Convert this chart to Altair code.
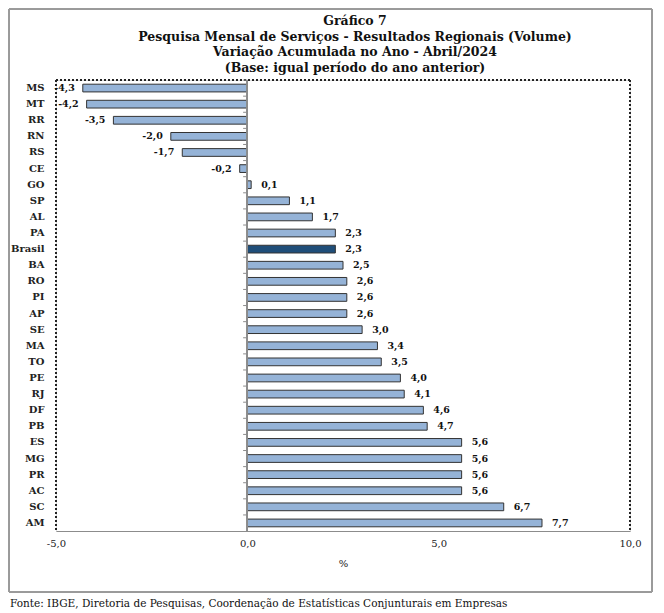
import altair as alt
import pandas as pd

UFS = ["MS", "MT", "RR", "RN", "RS", "CE", "GO", "SP", "AL", "PA", "Brasil", "BA", "RO", "PI",
       "AP", "SE", "MA", "TO", "PE", "RJ", "DF", "PB", "ES", "MG", "PR", "AC", "SC", "AM"]
VALUES = [-4.3, -4.2, -3.5, -2.0, -1.7, -0.2, 0.1, 1.1, 1.7, 2.3, 2.3, 2.5, 2.6, 2.6,
          2.6, 3.0, 3.4, 3.5, 4.0, 4.1, 4.6, 4.7, 5.6, 5.6, 5.6, 5.6, 6.7, 7.7]
X_TICKS = [-5, 0, 5, 10]
TITLE = ["Gráfico 7",
         "Pesquisa  Mensal de Serviços - Resultados Regionais (Volume)",
         "Variação Acumulada no Ano - Abril/2024",
         "(Base: igual período do ano anterior)"]
SOURCE = ["Fonte: IBGE, Diretoria de Pesquisas, Coordenação de Estatísticas Conjunturais em Empresas"]

W, H = 574, 451
SERIF = "DejaVu Serif"
FMT = "replace(replace(format({}, '.1f'), '.', ','), '\u2212', '-')"

df = pd.DataFrame({"uf": UFS, "v": VALUES})

xscale = alt.Scale(domain=[-5, 10], nice=False, zero=False)
yscale = alt.Scale(domain=UFS, paddingInner=0.52, paddingOuter=0.26)

x_enc = alt.X("v:Q", scale=xscale, title="%",
              axis=alt.Axis(values=X_TICKS, grid=False, ticks=False, domainColor="#8c8c8c",
                            labelFlush=False, labelBound=False,
                            labelExpr=FMT.format("datum.value"),
                            labelFont=SERIF, labelFontSize=10, labelColor="#222", labelPadding=7,
                            titleFont=SERIF, titleFontSize=10, titleFontWeight="normal",
                            titleColor="#222", titlePadding=10))
y_enc = alt.Y("uf:N", scale=yscale, sort=UFS, title=None,
              axis=alt.Axis(ticks=False, domain=False, labelFont=SERIF, labelFontSize=10,
                            labelFontWeight="bold", labelColor="#222", labelPadding=12))

base = alt.Chart(df)

bars = base.mark_bar(stroke="#333333", strokeWidth=1).encode(
    x=x_enc,
    x2=alt.datum(0),
    y=y_enc,
    fill=alt.condition(alt.datum.uf == "Brasil", alt.value("#1f4e79"), alt.value("#95b3d7")),
)

lab_base = base.transform_calculate(lab=FMT.format("datum.v"))
lab_enc = dict(
    x=alt.X("v:Q", scale=xscale),
    y=alt.Y("uf:N", scale=yscale, sort=UFS),
    text="lab:N",
)
labels_pos = lab_base.transform_filter(alt.datum.v >= 0).mark_text(
    font=SERIF, fontSize=9.5, fontWeight="bold", color="#111", baseline="middle",
    align="left", dx=10).encode(**lab_enc)
labels_neg = lab_base.transform_filter(alt.datum.v < 0).mark_text(
    font=SERIF, fontSize=9.5, fontWeight="bold", color="#111", baseline="middle",
    align="right", dx=-8).encode(**lab_enc)

zero_line = base.mark_rule(color="#8c8c8c", strokeWidth=1).encode(x=alt.datum(0))

zero_ticks = base.mark_rule(color="#8c8c8c", strokeWidth=1, yOffset=-8).encode(
    x=alt.datum(0),
    x2=alt.datum(-0.11),
    y=alt.Y("uf:N", scale=yscale, sort=UFS),
)

dash_top = base.mark_rule(color="#222", strokeDash=[2, 2], strokeWidth=1).encode(
    x=alt.value(0), x2=alt.value(W), y=alt.value(0))
dash_left = base.mark_rule(color="#222", strokeDash=[2, 2], strokeWidth=1).encode(
    x=alt.value(0), y=alt.value(0), y2=alt.value(H))
dash_right = base.mark_rule(color="#222", strokeDash=[2, 2], strokeWidth=1).encode(
    x=alt.value(W), y=alt.value(0), y2=alt.value(H))

frame = base.mark_rect(fill="transparent", stroke="#9a9a9a", strokeWidth=1).encode(
    x=alt.value(-47), x2=alt.value(W + 22), y=alt.value(-71), y2=alt.value(H + 61))

title = alt.Chart(pd.DataFrame({"t": ["\n".join(TITLE)]})).mark_text(
    font=SERIF, fontSize=12.5, fontWeight="bold", color="#111", align="center",
    baseline="top", lineBreak="\n", lineHeight=15.5
).encode(x=alt.value(W / 2 + 12), y=alt.value(-65), text="t:N")

source = alt.Chart(pd.DataFrame({"t": SOURCE})).mark_text(
    font=SERIF, fontSize=10.5, align="left", baseline="middle", color="#111"
).encode(x=alt.value(-46), y=alt.value(H + 73), text="t:N")

chart = alt.layer(
    frame, title, dash_top, dash_left, dash_right, zero_ticks, bars, zero_line,
    labels_pos, labels_neg, source
).properties(
    width=W, height=H, padding=0,
).configure_view(stroke=None).configure(background="white")

chart.save("out.html", embed_options={"renderer": "svg", "actions": False})
